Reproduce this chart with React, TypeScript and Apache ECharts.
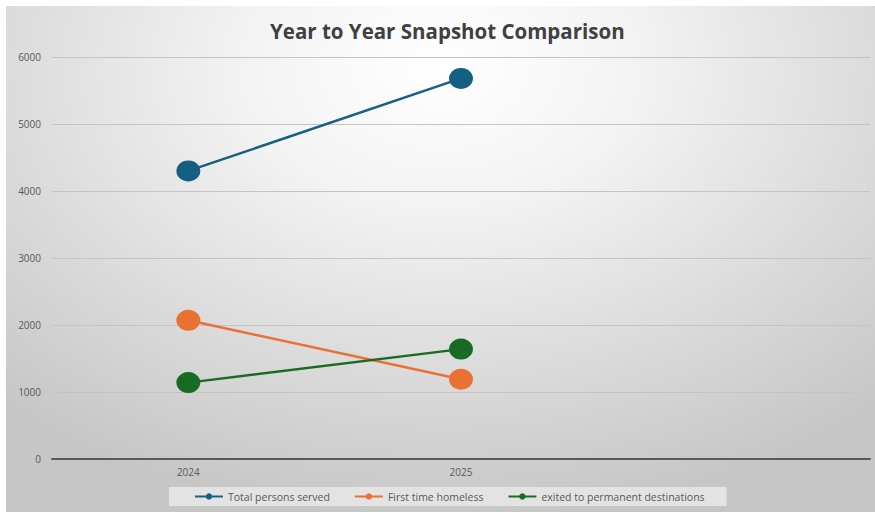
import React, { useEffect, useRef } from "react";
import * as echarts from "echarts";

const categories = ["2024", "2025", ""];
const totalServed = [4300, 5680, null];
const firstTimeHomeless = [2070, 1190, null];
const exitedPermanent = [1140, 1640, null];
const yTicks = { min: 0, max: 6000, interval: 1000 };

export default function App() {
  const ref = useRef<HTMLDivElement>(null);
  useEffect(() => {
    if (!ref.current) return;
    const chart = echarts.init(ref.current, null, { renderer: "svg" });
    const font = "'Open Sans', 'Noto Sans', sans-serif";
    const mk = (name: string, data: (number | null)[], color: string) => ({
      name,
      type: "line",
      data,
      symbol: "circle",
      symbolSize: [24, 21],
      lineStyle: { color, width: 2.5 },
      itemStyle: { color },
      z: 3,
    });
    chart.setOption({
      animation: false,
      backgroundColor: "transparent",
      textStyle: { fontFamily: font },
      title: {
        text: "Year to Year Snapshot Comparison",
        left: 265,
        top: 15,
        textStyle: { fontSize: 20.5, fontWeight: "bold", color: "#404040", fontFamily: font },
      },
      grid: { left: 52, right: 5, top: 57, bottom: 53 },
      xAxis: {
        type: "category",
        data: categories,
        boundaryGap: true,
        axisLine: { lineStyle: { color: "#595959", width: 2 } },
        axisTick: { show: false },
        axisLabel: { color: "#595959", fontSize: 10, margin: 8 },
      },
      yAxis: {
        type: "value",
        min: yTicks.min,
        max: yTicks.max,
        interval: yTicks.interval,
        axisLine: { show: false },
        axisTick: { show: false },
        axisLabel: {
          color: "#595959",
          fontSize: 10,
          margin: 11,
          formatter: (v: number) => String(v),
        },
        splitLine: { lineStyle: { color: "#c4c4c4", width: 1 } },
      },
      legend: {
        bottom: 6,
        left: 169,
        itemWidth: 28,
        itemHeight: 8,
        itemGap: 24,
        padding: [4, 22, 4, 25],
        backgroundColor: "rgba(232,232,232,0.85)",
        textStyle: { color: "#595959", fontSize: 10.5, fontFamily: font },
        data: ["Total persons served", "First time homeless", "exited to permanent destinations"],
      },
      series: [
        mk("Total persons served", totalServed, "#156082"),
        mk("First time homeless", firstTimeHomeless, "#E97132"),
        mk("exited to permanent destinations", exitedPermanent, "#196B24"),
      ],
    });
    return () => chart.dispose();
  }, []);
  return (
    <div style={{ position: "fixed", left: 0, top: 0, width: 875, height: 512, background: "#ffffff" }}>
      <div
        style={{
          position: "absolute",
          left: 6,
          top: 6,
          width: 869,
          height: 506,
          background: "radial-gradient(ellipse 75% 90% at 50% 12%, #ffffff 0%, #f3f3f3 30%, #d9d9d9 70%, #c6c6c6 100%)",
        }}
      />
      <div ref={ref} style={{ position: "absolute", left: 0, top: 0, width: 875, height: 512 }} />
    </div>
  );
}
